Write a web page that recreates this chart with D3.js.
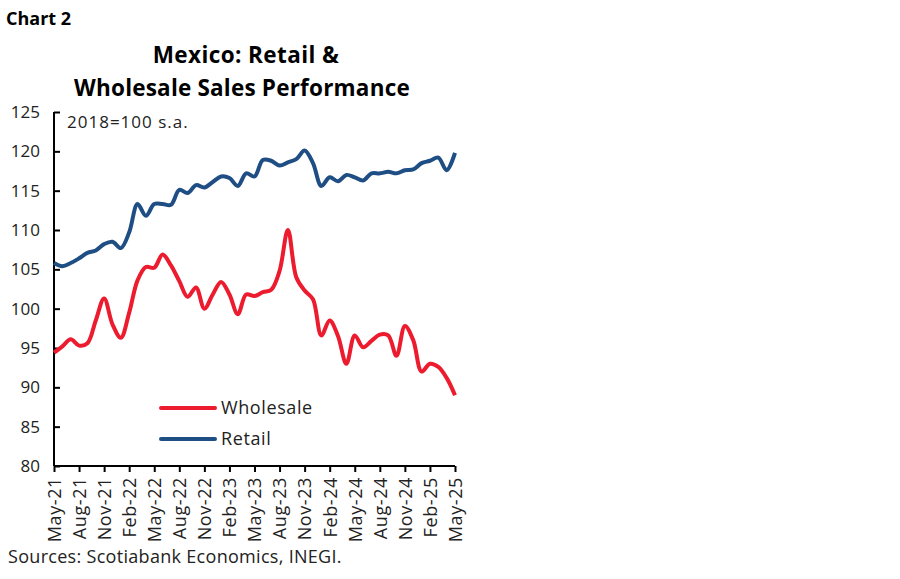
<!DOCTYPE html>
<html><head><meta charset="utf-8">
<script src="https://cdn.jsdelivr.net/npm/d3@7"></script>
<style>body{margin:0;background:#fff}svg{display:block}</style>
</head><body>
<svg id="c" width="900" height="579"></svg>
<script>
const months = [];
(function(){const m=["Jan","Feb","Mar","Apr","May","Jun","Jul","Aug","Sep","Oct","Nov","Dec"];
for(let i=0;i<49;i++){const mi=(4+i)%12, y=21+Math.floor((4+i)/12); months.push(m[mi]+"-"+y);}})();
const tickLabels = ["May-21","Aug-21","Nov-21","Feb-22","May-22","Aug-22","Nov-22","Feb-23","May-23","Aug-23","Nov-23","Feb-24","May-24","Aug-24","Nov-24","Feb-25","May-25"];
const retail = [105.8,105.4,105.8,106.4,107.1,107.4,108.2,108.5,107.7,109.7,113.3,111.8,113.3,113.3,113.2,115.1,114.7,115.7,115.4,116.1,116.8,116.6,115.6,117.2,116.8,118.9,118.8,118.2,118.6,119.0,120.1,118.5,115.6,116.7,116.2,117.0,116.7,116.3,117.2,117.2,117.4,117.2,117.6,117.7,118.5,118.8,119.2,117.6,119.8];
const wholesale = [94.4,95.2,96.1,95.3,95.6,98.5,101.3,98.0,96.3,99.5,103.6,105.3,105.2,106.9,105.5,103.5,101.5,102.7,100.0,101.8,103.4,101.8,99.3,101.8,101.6,102.1,102.4,104.8,110.0,104.0,102.3,101.2,96.6,98.5,96.5,93.0,96.6,95.1,95.9,96.7,96.6,94.0,97.8,96.0,92.0,93.0,92.6,91.2,89.0];
const yTicks = [80,85,90,95,100,105,110,115,120,125];

const svg = d3.select("#c");
const font = "'Open Sans', Lato, sans-serif";
const L=54, R=455, T=112, B=466;
const x = d3.scalePoint().domain(months).range([L,R]);
const y = d3.scaleLinear().domain([80,125]).range([B,T]);

svg.append("text").attr("x",6).attr("y",25).attr("font-family",font).attr("font-weight",700).attr("font-size",18).attr("fill","#000").text("Chart 2");
svg.append("text").attr("x",246).attr("y",63).attr("text-anchor","middle").attr("font-family",font).attr("font-weight",700).attr("font-size",22.5).attr("letter-spacing",0.4).text("Mexico: Retail &");
svg.append("text").attr("x",242).attr("y",96).attr("text-anchor","middle").attr("font-family",font).attr("font-weight",700).attr("font-size",22.5).attr("letter-spacing",0.2).text("Wholesale Sales Performance");

// y axis
const ya = svg.append("g").attr("transform",`translate(${L},0)`)
  .call(d3.axisLeft(y).tickValues(yTicks).tickSize(-6).tickPadding(14));
ya.select(".domain").attr("stroke","#000").attr("stroke-width",2).attr("d",`M0,${T}V${B}`);
ya.selectAll(".tick line").attr("stroke","#000").attr("stroke-width",2);
ya.selectAll("text").attr("font-family",font).attr("font-size",17).attr("fill","#222");

// x axis
const xa = svg.append("g").attr("transform",`translate(0,${B})`)
  .call(d3.axisBottom(x).tickValues(tickLabels).tickSize(6).tickSizeOuter(0));
xa.select(".domain").attr("stroke","#000").attr("stroke-width",2).attr("d",`M${L},0H${R}`);
xa.selectAll(".tick line").attr("stroke","#000").attr("stroke-width",2);
xa.selectAll("text").attr("font-family",font).attr("font-size",18).attr("letter-spacing",0.6).attr("fill","#222")
  .attr("transform","rotate(-90)").attr("text-anchor","end").attr("x",-11).attr("y",0).attr("dy","0.35em");

svg.append("text").attr("x",67).attr("y",128).attr("font-family",font).attr("font-size",17).attr("letter-spacing",1).attr("fill","#222").text("2018=100 s.a.");

const line = d3.line().x((d,i)=>x(months[i])).y(d=>y(d)).curve(d3.curveCatmullRom.alpha(0.5));
svg.append("path").datum(retail).attr("d",line).attr("fill","none").attr("stroke","#1f4e84").attr("stroke-width",4).attr("stroke-linejoin","round");
svg.append("path").datum(wholesale).attr("d",line).attr("fill","none").attr("stroke","#ec1c2e").attr("stroke-width",4).attr("stroke-linejoin","round");

// legend
const leg = [{n:"Wholesale",c:"#ec1c2e",y:408},{n:"Retail",c:"#1f4e84",y:439}];
leg.forEach(d=>{
  svg.append("line").attr("x1",161).attr("x2",215).attr("y1",d.y).attr("y2",d.y).attr("stroke",d.c).attr("stroke-width",4).attr("stroke-linecap","round");
  svg.append("text").attr("x",221).attr("y",d.y+6).attr("font-family",font).attr("font-size",18).attr("letter-spacing",0.6).attr("fill","#222").text(d.n);
});

svg.append("text").attr("x",8).attr("y",563).attr("font-family",font).attr("font-size",18).attr("letter-spacing",0.3).attr("fill","#222").text("Sources: Scotiabank Economics, INEGI.");
</script>
</body></html>
